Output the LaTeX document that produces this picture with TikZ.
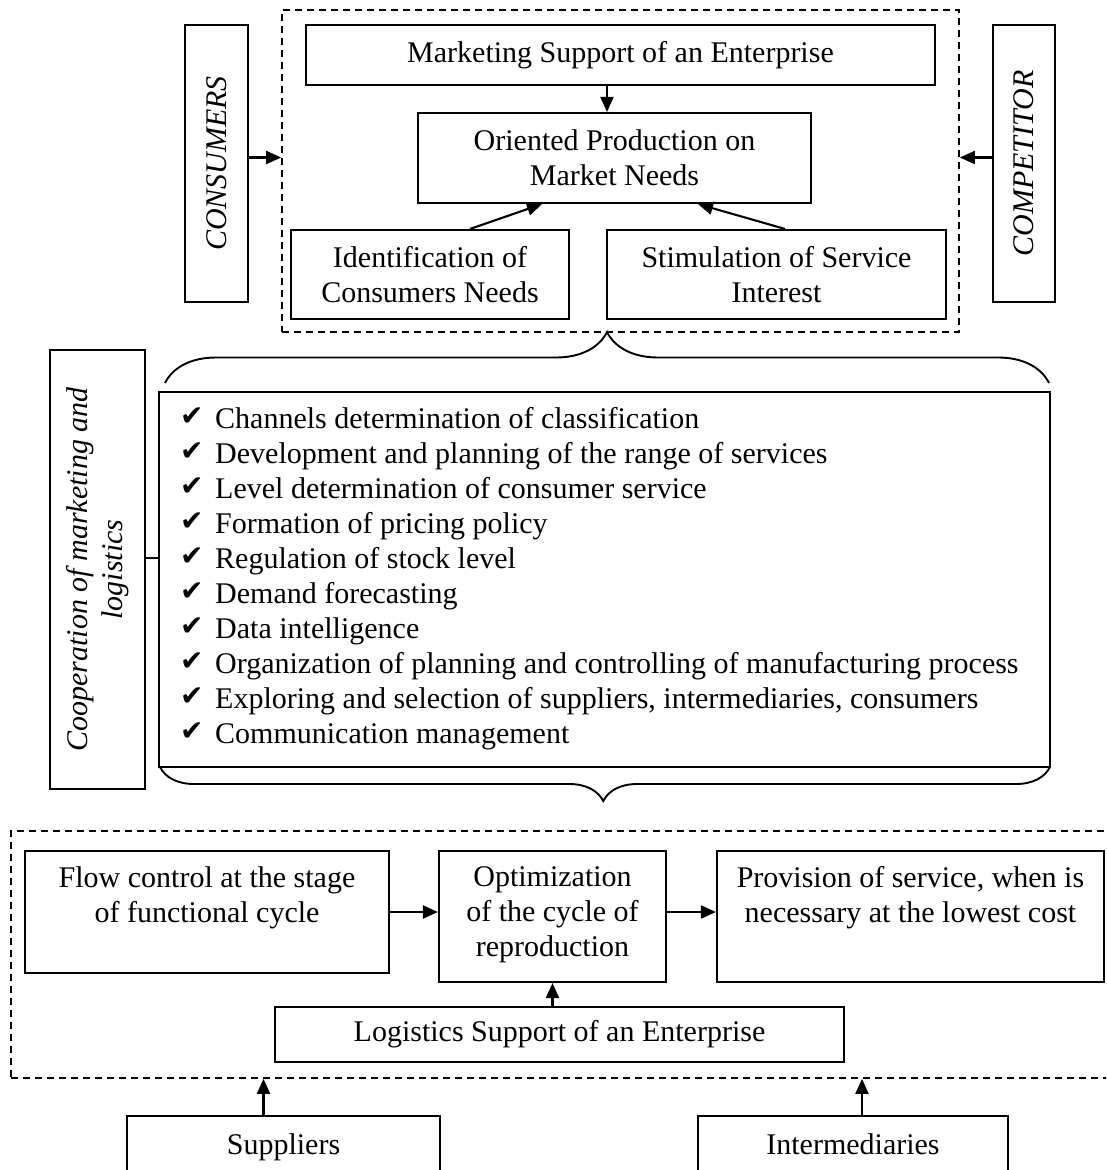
\documentclass[tikz,border=0pt]{standalone}
\usepackage{fontspec}
\setmainfont{Liberation Serif}
\newfontfamily\checkfont{DejaVu Sans}
\usetikzlibrary{arrows.meta,decorations.pathreplacing,calc}
\newcommand\diagfont{\fontsize{30}{35}\selectfont}
\begin{document}
\begin{tikzpicture}[x=1pt,y=-1pt,
  box/.style={draw,line width=2.1pt,inner sep=0pt,align=center,font=\diagfont},
  dbox/.style={draw,line width=1.7pt,dash pattern=on 7pt off 5pt,inner sep=0pt},
  txt/.style={inner sep=0pt,align=center,font=\diagfont},
  arr/.style={line width=2.1pt,-{Triangle[length=15pt,width=13pt]}},
  brc/.style={line width=1.9pt,decorate}]
\useasboundingbox (0,0) rectangle (1106,1170);
\clip (0,0) rectangle (1106,1170);
% ---------- top part ----------
\node[dbox, minimum width=677pt, minimum height=322pt] (dtop) at (620.5,171) {};
\node[box, minimum width=629pt, minimum height=60pt] (mkt) at (620.5,55) {Marketing Support of an Enterprise};
\node[box, minimum width=393pt, minimum height=90pt] (ori) at (614.5,158) {Oriented Production on\\Market Needs};
\node[box, minimum width=278pt, minimum height=89pt] (idn) at (430,274.5) {Identification of\\Consumers Needs};
\node[box, minimum width=339pt, minimum height=89pt] (stim) at (776.5,274.5) {Stimulation of Service\\Interest};
\node[box, minimum width=63pt, minimum height=277pt] (cons) at (216.5,163.5) {};
\node[txt, rotate=90, font=\diagfont\itshape] (const) at (cons) {CONSUMERS};
\node[box, minimum width=62pt, minimum height=277pt] (comp) at (1024,163.5) {};
\node[txt, rotate=90, font=\diagfont\itshape] (compt) at (comp) {COMPETITOR};
\draw[arr] ([xshift=-7.5pt]ori.north |- mkt.south) -- ([xshift=-7.5pt]ori.north);
\draw[arr] ([yshift=6pt]cons.east) -- ([yshift=6pt]cons.east -| dtop.west);
\draw[arr] ([yshift=6pt]comp.west) -- ([yshift=6pt]comp.west -| dtop.east);
\draw[arr] ([xshift=40pt]idn.north) -- ([xshift=-72.5pt]ori.south);
\draw[arr] ([xshift=8.5pt]stim.north) -- ([xshift=83.5pt]ori.south);
% ---------- middle part ----------
\node[box, minimum width=95pt, minimum height=439pt] (coop) at (97.5,569.5) {};
\node[txt, rotate=90, font=\diagfont\itshape] (coopt) at (coop) {Cooperation of marketing and\\logistics};
\node[box, minimum width=891pt, minimum height=375pt] (list) at (604.5,579.5) {};
\foreach \t [count=\i from 0] in {Channels determination of classification,
  Development and planning of the range of services,
  Level determination of consumer service,
  Formation of pricing policy,
  Regulation of stock level,
  Demand forecasting,
  Data intelligence,
  Organization of planning and controlling of manufacturing process,
  {Exploring and selection of suppliers, intermediaries, consumers},
  Communication management}
  \node[anchor=base west, inner sep=0pt, font=\diagfont] (item\i) at (180,{428+35*\i}) {\makebox[35pt][l]{\checkfont\fontsize{28}{35}\selectfont\raisebox{3pt}{✔}}\t};
\draw[line width=2.1pt] ([yshift=11.5pt]coop.east) -- ([yshift=11.5pt]coop.east -| list.west);
\coordinate (tb1) at (165,383);
\coordinate (tb2) at (1049,383);
\draw[brc, decoration={brace, amplitude=51pt, aspect=0.5}] (tb1) -- (tb2);
\coordinate (bb1) at (1050,767);
\coordinate (bb2) at (160,767);
\draw[brc, decoration={brace, amplitude=34pt, aspect=0.502}] (bb1) -- (bb2);
% ---------- bottom part ----------
\node[dbox, minimum width=1101pt, minimum height=247pt] (dbot) at (561.5,954.5) {};
\node[box, minimum width=364pt, minimum height=122pt] (flow) at (207,912) {};
\node[txt, anchor=north] (flowt) at ($(flow.north)+(0,16.5)$) {Flow control at the stage\\of functional cycle};
\node[box, minimum width=227pt, minimum height=131pt] (opt) at (552.5,916.5) {};
\node[txt, anchor=north] (optt) at ($(opt.north)+(0,16.5)$) {Optimization\\of the cycle of\\reproduction};
\node[box, minimum width=387pt, minimum height=131pt] (prov) at (910.5,916.5) {};
\node[txt, anchor=north] (provt) at ($(prov.north)+(0,16.5)$) {Provision of service, when is\\necessary at the lowest cost};
\node[box, minimum width=569pt, minimum height=55pt] (log) at (559.5,1034.5) {Logistics Support of an Enterprise};
\node[box, minimum width=313pt, minimum height=62pt, text height=21pt, text depth=7pt] (sup) at (283.5,1147) {Suppliers};
\node[box, minimum width=310pt, minimum height=62pt, text height=21pt, text depth=7pt] (int) at (853,1147) {Intermediaries};
\draw[arr] (flow.east) -- (flow.east -| opt.west);
\draw[arr] (flow.east -| opt.east) -- (flow.east -| prov.west);
\draw[arr] (opt.south |- log.north) -- (opt.south);
\draw[arr] ([xshift=-20pt]sup.north) -- ([xshift=-20pt]sup.north |- dbot.south);
\draw[arr] ([xshift=9pt]int.north) -- ([xshift=9pt]int.north |- dbot.south);
\end{tikzpicture}
\end{document}
